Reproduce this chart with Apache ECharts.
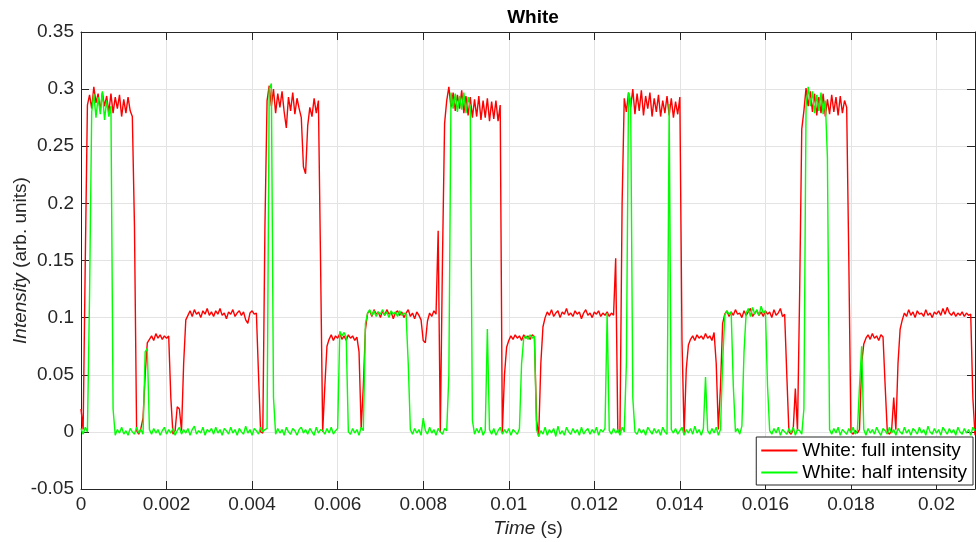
<!DOCTYPE html>
<html>
<head>
<meta charset="utf-8">
<title>White</title>
<script src="https://cdn.jsdelivr.net/npm/echarts@6/dist/echarts.min.js"></script>
<style>
  html, body { margin: 0; padding: 0; background: #fff; }
  #chart { width: 976px; height: 542px; }
</style>
</head>
<body>
<div id="chart"></div>
<script>
// sample spacing of the recorded traces (s)
var dt = 0.00005;
var xTicks = [0, 0.002, 0.004, 0.006, 0.008, 0.01, 0.012, 0.014, 0.016, 0.018, 0.02];
var yTicks = [-0.05, 0, 0.05, 0.1, 0.15, 0.2, 0.25, 0.3, 0.35];
var seriesNames = ['White: full intensity', 'White: half intensity'];

// White: full intensity
var fullIntensity = [
  0.020, 0.002, 0.150, 0.286, 0.295, 0.283, 0.302, 0.288, 0.296, 0.281,
  0.297, 0.285, 0.294, 0.280, 0.296, 0.279, 0.293, 0.283, 0.295, 0.276,
  0.291, 0.279, 0.293, 0.281, 0.276, 0.180, 0.001, -0.002, 0.003, 0.012,
  0.050, 0.078, 0.081, 0.084, 0.080, 0.086, 0.082, 0.085, 0.081, 0.084,
  0.082, 0.084, 0.030, -0.002, 0.001, 0.022, 0.020, 0.001, 0.060, 0.098,
  0.102, 0.106, 0.101, 0.107, 0.103, 0.105, 0.100, 0.106, 0.103, 0.108,
  0.102, 0.105, 0.101, 0.106, 0.103, 0.108, 0.102, 0.104, 0.099, 0.105,
  0.103, 0.107, 0.101, 0.104, 0.106, 0.102, 0.105, 0.098, 0.095, 0.104,
  0.106, 0.103, 0.104, 0.050, 0.000, -0.001, 0.180, 0.290, 0.303, 0.285,
  0.300, 0.279, 0.296, 0.284, 0.298, 0.280, 0.266, 0.293, 0.281, 0.297,
  0.278, 0.292, 0.283, 0.275, 0.232, 0.226, 0.268, 0.284, 0.276, 0.292,
  0.279, 0.290, 0.150, 0.000, 0.040, 0.075, 0.081, 0.085, 0.080, 0.084,
  0.082, 0.086, 0.081, 0.084, 0.080, 0.085, 0.082, 0.084, 0.080, 0.083,
  0.070, 0.003, 0.040, 0.090, 0.104, 0.106, 0.101, 0.107, 0.103, 0.105,
  0.100, 0.106, 0.102, 0.107, 0.103, 0.105, 0.099, 0.104, 0.106, 0.102,
  0.105, 0.100, 0.104, 0.107, 0.101, 0.104, 0.099, 0.105, 0.102, 0.098,
  0.080, 0.078, 0.097, 0.104, 0.101, 0.106, 0.103, 0.176, 0.000, 0.150,
  0.270, 0.290, 0.302, 0.284, 0.297, 0.281, 0.295, 0.283, 0.299, 0.279,
  0.294, 0.277, 0.293, 0.275, 0.291, 0.276, 0.294, 0.273, 0.290, 0.275,
  0.292, 0.272, 0.289, 0.274, 0.290, 0.272, 0.286, 0.000, 0.050, 0.074,
  0.080, 0.084, 0.081, 0.085, 0.082, 0.084, 0.080, 0.085, 0.082, 0.084,
  0.081, 0.085, 0.083, 0.010, -0.004, 0.060, 0.092, 0.100, 0.105, 0.102,
  0.107, 0.101, 0.104, 0.106, 0.100, 0.105, 0.103, 0.108, 0.102, 0.104,
  0.101, 0.106, 0.103, 0.105, 0.099, 0.104, 0.107, 0.102, 0.104, 0.100,
  0.105, 0.103, 0.106, 0.101, 0.104, 0.102, 0.105, 0.101, 0.104, 0.102,
  0.152, 0.000, 0.000, 0.200, 0.292, 0.280, 0.297, 0.284, 0.300, 0.278,
  0.296, 0.281, 0.299, 0.277, 0.294, 0.283, 0.297, 0.276, 0.292, 0.280,
  0.295, 0.276, 0.290, 0.279, 0.294, 0.277, 0.292, 0.275, 0.289, 0.278,
  0.293, 0.080, -0.002, 0.055, 0.076, 0.081, 0.084, 0.080, 0.085, 0.082,
  0.084, 0.081, 0.086, 0.082, 0.084, 0.080, 0.087, 0.060, 0.002, 0.040,
  0.095, 0.103, 0.106, 0.101, 0.105, 0.102, 0.107, 0.103, 0.104, 0.100,
  0.106, 0.102, 0.105, 0.108, 0.101, 0.104, 0.106, 0.102, 0.105, 0.101,
  0.106, 0.103, 0.105, 0.100, 0.107, 0.102, 0.104, 0.108, 0.101, 0.103,
  0.050, 0.000, -0.002, 0.002, 0.038, 0.001, 0.120, 0.265, 0.281, 0.301,
  0.285, 0.298, 0.280, 0.296, 0.277, 0.293, 0.279, 0.296, 0.276, 0.291,
  0.278, 0.295, 0.280, 0.293, 0.277, 0.294, 0.279, 0.290, 0.284, 0.150,
  0.000, -0.002, 0.001, -0.001, 0.002, 0.060, 0.077, 0.082, 0.085, 0.081,
  0.086, 0.082, 0.084, 0.080, 0.085, 0.083, 0.040, 0.000, -0.002, 0.001,
  0.030, 0.002, 0.060, 0.090, 0.098, 0.104, 0.101, 0.107, 0.102, 0.105,
  0.100, 0.106, 0.103, 0.104, 0.101, 0.107, 0.102, 0.104, 0.100, 0.105,
  0.103, 0.106, 0.102, 0.108, 0.103, 0.109, 0.104, 0.102, 0.105, 0.101,
  0.104, 0.102, 0.105, 0.101, 0.104, 0.102, 0.103, 0.030, -0.003
];

// White: half intensity
var halfIntensity = [
  0.003, -0.002, 0.004, 0.000, 0.120, 0.280, 0.296, 0.275, 0.293, 0.278,
  0.298, 0.273, 0.290, 0.276, 0.285, 0.020, -0.003, 0.002, -0.001, 0.004,
  -0.002, 0.001, -0.003, 0.003, 0.000, -0.002, 0.004, -0.001, 0.002, -0.002,
  0.070, 0.073, 0.002, -0.002, 0.003, -0.001, 0.002, -0.003, 0.001, 0.004,
  -0.002, 0.002, -0.001, 0.003, -0.003, 0.001, 0.004, -0.002, 0.002, -0.001,
  0.003, -0.003, 0.002, 0.005, -0.002, 0.001, -0.001, 0.004, -0.003, 0.002,
  0.000, 0.003, -0.002, 0.004, -0.001, 0.002, -0.003, 0.003, 0.001, -0.002,
  0.004, -0.001, 0.002, -0.003, 0.003, 0.000, -0.002, 0.005, -0.001, 0.002,
  -0.003, 0.003, 0.001, -0.002, 0.004, 0.000, 0.002, 0.003, 0.300, 0.305,
  0.030, -0.002, 0.003, -0.001, 0.002, -0.003, 0.004, 0.000, -0.002, 0.003,
  0.001, -0.003, 0.002, 0.004, -0.001, 0.002, -0.002, 0.003, 0.000, -0.003,
  0.004, -0.001, 0.002, 0.001, -0.002, 0.003, -0.001, 0.004, -0.002, 0.001,
  0.003, 0.088, 0.084, 0.087, 0.083, 0.000, -0.002, 0.003, -0.001, 0.002,
  -0.003, 0.004, 0.001, 0.095, 0.104, 0.107, 0.102, 0.106, 0.101, 0.105,
  0.103, 0.107, 0.102, 0.105, 0.100, 0.106, 0.103, 0.105, 0.101, 0.106,
  0.102, 0.104, 0.103, 0.060, 0.002, -0.002, 0.003, -0.001, 0.002, -0.003,
  0.012, 0.001, -0.002, 0.004, -0.001, 0.002, -0.003, 0.003, 0.000, -0.002,
  0.003, 0.001, 0.050, 0.297, 0.283, 0.296, 0.280, 0.294, 0.282, 0.297,
  0.279, 0.293, 0.284, 0.010, -0.002, 0.003, -0.001, 0.004, -0.003, 0.001,
  0.090, 0.002, -0.002, 0.003, -0.003, 0.001, 0.004, -0.002, 0.002, -0.001,
  0.003, -0.003, 0.002, 0.000, -0.002, 0.003, 0.060, 0.082, 0.084, 0.081,
  0.085, 0.082, 0.084, 0.002, -0.004, 0.001, -0.002, 0.004, -0.003, 0.002,
  -0.001, 0.003, -0.004, 0.005, -0.002, 0.001, -0.003, 0.004, 0.000, -0.002,
  0.003, -0.001, 0.002, -0.003, 0.004, -0.002, 0.001, 0.003, -0.002, 0.002,
  -0.001, 0.004, -0.003, 0.002, 0.000, 0.003, 0.104, 0.001, -0.002, 0.003,
  -0.001, 0.002, -0.003, 0.004, 0.000, 0.060, 0.297, 0.290, 0.030, 0.000,
  -0.002, 0.003, -0.001, 0.002, -0.003, 0.004, 0.001, -0.002, 0.003, -0.001,
  0.002, -0.003, 0.004, 0.000, -0.002, 0.287, 0.002, -0.001, 0.003, -0.002,
  0.001, 0.004, -0.003, 0.002, -0.001, 0.003, -0.002, 0.005, -0.001, 0.002,
  -0.003, 0.003, 0.048, 0.001, -0.002, 0.003, -0.001, 0.004, -0.003, 0.002,
  0.060, 0.102, 0.106, 0.103, 0.105, 0.040, 0.000, 0.003, -0.002, 0.005,
  0.070, 0.104, 0.108, 0.101, 0.109, 0.103, 0.107, 0.102, 0.110, 0.104,
  0.106, 0.040, 0.001, -0.002, 0.003, -0.001, 0.004, -0.003, 0.002, 0.000,
  -0.002, 0.003, -0.001, 0.004, -0.003, 0.002, 0.001, -0.002, 0.020, 0.285,
  0.302, 0.285, 0.298, 0.279, 0.295, 0.281, 0.297, 0.278, 0.290, 0.240,
  0.002, -0.002, 0.003, -0.001, 0.004, -0.003, 0.002, 0.000, -0.002, 0.003,
  -0.001, 0.004, -0.002, 0.001, 0.040, 0.075, 0.002, -0.003, 0.003, -0.001,
  0.002, -0.002, 0.004, 0.000, -0.003, 0.003, 0.001, -0.002, 0.004, -0.001,
  0.002, -0.003, 0.003, 0.000, -0.002, 0.004, -0.001, 0.002, -0.003, 0.003,
  0.001, -0.002, 0.004, -0.001, 0.002, -0.003, 0.005, 0.000, -0.002, 0.003,
  -0.001, 0.002, -0.003, 0.004, 0.001, -0.002, 0.003, -0.001, 0.002, -0.003,
  0.004, 0.000, -0.002, 0.003, -0.001, 0.002, -0.003, 0.004, 0.001
];

var FONT = '"Liberation Sans", Arial, Helvetica, sans-serif';
var INK = '#262626';

function toPairs(arr) {
  var out = [];
  for (var i = 0; i < arr.length; i++) out.push([i * dt, arr[i]]);
  return out;
}
function fmt(v) {
  return String(parseFloat(v.toFixed(4)));
}

var chart = echarts.init(document.getElementById('chart'), null, { renderer: 'canvas' });

var xMin = xTicks[0], xMax = 0.0209, xStep = xTicks[1] - xTicks[0];
var yMin = yTicks[0], yMax = yTicks[yTicks.length - 1], yStep = 0.05;

var option = {
  animation: false,
  backgroundColor: '#fff',
  textStyle: { fontFamily: FONT },
  title: {
    text: 'White',
    left: 528,
    top: 3,
    textAlign: 'center',
    textStyle: { fontFamily: FONT, fontSize: 19, fontWeight: 'bold', color: '#000' }
  },
  grid: { left: 81, right: 1, top: 32, bottom: 53, containLabel: false, outerBoundsMode: 'none' },
  legend: {
    orient: 'vertical',
    right: 3,
    bottom: 57,
    data: seriesNames,
    icon: 'rect',
    itemWidth: 36,
    itemHeight: 2,
    itemGap: 1,
    padding: [3, 6, 2, 5],
    backgroundColor: '#fff',
    borderColor: INK,
    borderWidth: 1,
    borderRadius: 0,
    textStyle: { fontFamily: FONT, fontSize: 19, color: '#000', lineHeight: 21 }
  },
  xAxis: [{
    type: 'value',
    min: xMin, max: xMax, interval: xStep,
    name: '{i|Time} (s)',
    nameLocation: 'middle',
    nameGap: 30,
    nameMoveOverlap: false,
    nameTextStyle: {
      fontFamily: FONT, fontSize: 19, color: INK,
      rich: { i: { fontFamily: FONT, fontSize: 19, fontStyle: 'italic', color: INK } }
    },
    axisLine: { show: true, onZero: false, lineStyle: { color: INK, width: 1 } },
    axisTick: { show: true, inside: true, length: 8, lineStyle: { color: INK } },
    axisLabel: { color: INK, fontSize: 19, fontFamily: FONT, margin: 6, showMaxLabel: false, formatter: fmt },
    splitLine: { show: true, lineStyle: { color: '#e3e3e3', width: 1 } }
  }, {
    type: 'value', position: 'top',
    min: xMin, max: xMax, interval: xStep,
    axisLine: { show: true, onZero: false, lineStyle: { color: INK, width: 1 } },
    axisTick: { show: true, inside: true, length: 8, lineStyle: { color: INK } },
    axisLabel: { show: false },
    splitLine: { show: false }
  }],
  yAxis: [{
    type: 'value',
    min: yMin, max: yMax, interval: yStep,
    name: '{i|Intensity} (arb. units)',
    nameLocation: 'middle',
    nameGap: 51,
    nameMoveOverlap: false,
    nameTextStyle: {
      fontFamily: FONT, fontSize: 19, color: INK,
      rich: { i: { fontFamily: FONT, fontSize: 19, fontStyle: 'italic', color: INK } }
    },
    axisLine: { show: true, onZero: false, lineStyle: { color: INK, width: 1 } },
    axisTick: { show: true, inside: true, length: 8, lineStyle: { color: INK } },
    axisLabel: { color: INK, fontSize: 19, fontFamily: FONT, margin: 7, formatter: fmt },
    splitLine: { show: true, lineStyle: { color: '#e3e3e3', width: 1 } }
  }, {
    type: 'value', position: 'right',
    min: yMin, max: yMax, interval: yStep,
    axisLine: { show: true, onZero: false, lineStyle: { color: INK, width: 1 } },
    axisTick: { show: true, inside: true, length: 8, lineStyle: { color: INK } },
    axisLabel: { show: false },
    splitLine: { show: false }
  }],
  series: [{
    name: seriesNames[0],
    type: 'line',
    xAxisIndex: 0, yAxisIndex: 0,
    data: toPairs(fullIntensity),
    showSymbol: false,
    symbol: 'none',
    color: '#ff0000',
    lineStyle: { color: '#ff0000', width: 1.4 },
    z: 2
  }, {
    name: seriesNames[1],
    type: 'line',
    xAxisIndex: 0, yAxisIndex: 0,
    data: toPairs(halfIntensity),
    showSymbol: false,
    symbol: 'none',
    color: '#00ff00',
    lineStyle: { color: '#00ff00', width: 1.4 },
    z: 3
  }]
};

chart.setOption(option);
</script>
</body>
</html>
